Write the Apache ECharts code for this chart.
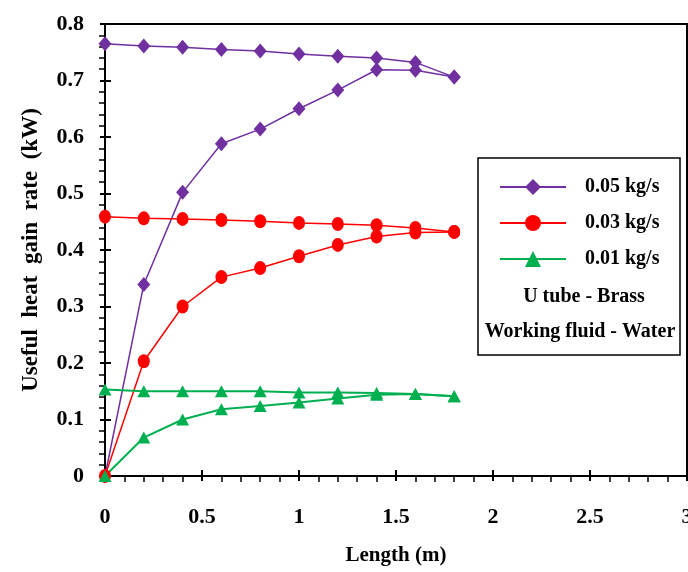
<!DOCTYPE html>
<html>
<head>
<meta charset="utf-8">
<script src="https://cdn.jsdelivr.net/npm/echarts@6/dist/echarts.min.js"></script>
<style>
html,body{margin:0;padding:0;background:#fff;}
#chart{width:688px;height:572px;}
</style>
</head>
<body>
<div id="chart"></div>
<script>
// ---- data ----
var lengths = [0, 0.2, 0.4, 0.6, 0.8, 1.0, 1.2, 1.4, 1.6, 1.8];
var seriesNames = ['0.05 kg/s', '0.03 kg/s', '0.01 kg/s'];
var rising005 = [0, 0.339, 0.502, 0.588, 0.614, 0.650, 0.683, 0.719, 0.718, 0.706];
var flat005   = [0.765, 0.761, 0.759, 0.755, 0.752, 0.747, 0.743, 0.740, 0.732, 0.706];
var rising003 = [0, 0.203, 0.300, 0.352, 0.368, 0.389, 0.409, 0.424, 0.431, 0.432];
var flat003   = [0.459, 0.456, 0.455, 0.453, 0.451, 0.448, 0.446, 0.444, 0.439, 0.432];
var rising001 = [0, 0.068, 0.100, 0.118, 0.124, 0.130, 0.137, 0.144, 0.145, 0.141];
var flat001   = [0.153, 0.150, 0.150, 0.150, 0.150, 0.148, 0.148, 0.147, 0.145, 0.141];
var xTicks = [0, 0.5, 1, 1.5, 2, 2.5, 3];
var yTicks = [0, 0.1, 0.2, 0.3, 0.4, 0.5, 0.6, 0.7, 0.8];
var legendNotes = ['U tube - Brass', 'Working fluid - Water'];
var xTitle = 'Length (m)';
var yTitle = 'Useful  heat  gain  rate  (kW)';

function pairs(ys) { return lengths.map(function (x, i) { return [x, ys[i]]; }); }

var FONT = '"Liberation Serif", "Times New Roman", serif';
var colors = ['#7030A0', '#FF0000', '#00B050'];
var symbols = ['diamond', 'circle', 'triangle'];
var symSizes = [[13, 15], [12, 14], [13, 12]];
var widths = [1.5, 1.5, 2];
var dataSets = [[rising005, flat005], [rising003, flat003], [rising001, flat001]];

var series = [];
for (var k = 0; k < 3; k++) {
  for (var j = 0; j < 2; j++) {
    series.push({
      name: seriesNames[k],
      type: 'line',
      data: pairs(dataSets[k][j]),
      symbol: symbols[k],
      symbolSize: symSizes[k],
      showSymbol: true,
      lineStyle: { color: colors[k], width: widths[k] },
      itemStyle: { color: colors[k] },
      z: 3
    });
  }
}

var axisFont = { fontFamily: FONT, fontWeight: 'bold', fontSize: 22, color: '#000' };

var chart = echarts.init(document.getElementById('chart'), null, { renderer: 'canvas' });
chart.setOption({
  animation: false,
  backgroundColor: '#fff',
  grid: { left: 105, right: 1, top: 24, bottom: 96, show: true, borderColor: '#000', borderWidth: 2, containLabel: false, outerBoundsMode: 'none' },
  xAxis: [{
    type: 'value', min: xTicks[0], max: xTicks[xTicks.length - 1], interval: 0.5,
    name: xTitle, nameLocation: 'middle', nameGap: 69,
    nameTextStyle: { fontFamily: FONT, fontWeight: 'bold', fontSize: 21, color: '#000' },
    axisLine: { lineStyle: { color: '#000', width: 2 } },
    axisTick: { show: true, inside: false, length: 5, lineStyle: { color: '#000', width: 2 } },
    minorTick: { show: true, splitNumber: 5, length: 6, lineStyle: { color: '#000', width: 1.5 } },
    splitLine: { show: false },
    axisLabel: Object.assign({ margin: 30, hideOverlap: false, formatter: function (v) { return String(+v.toFixed(1)); } }, axisFont)
  }, {
    type: 'value', min: xTicks[0], max: xTicks[xTicks.length - 1], interval: 0.5, position: 'bottom',
    axisLine: { show: false },
    axisTick: { show: true, inside: true, length: 6, lineStyle: { color: '#000', width: 2 } },
    axisLabel: { show: false }, splitLine: { show: false }
  }],
  yAxis: [{
    type: 'value', min: yTicks[0], max: yTicks[yTicks.length - 1], interval: 0.1,
    name: yTitle, nameLocation: 'middle', nameGap: 62, nameRotate: 90,
    nameTextStyle: { fontFamily: FONT, fontWeight: 'bold', fontSize: 23, color: '#000' },
    axisLine: { lineStyle: { color: '#000', width: 2 } },
    axisTick: { show: true, inside: false, length: 5, lineStyle: { color: '#000', width: 2 } },
    minorTick: { show: true, splitNumber: 5, length: 6, lineStyle: { color: '#000', width: 1.5 } },
    splitLine: { show: false },
    axisLabel: Object.assign({ margin: 21, formatter: function (v) { return v === 0 ? '0' : v.toFixed(1); } }, axisFont)
  }, {
    type: 'value', min: yTicks[0], max: yTicks[yTicks.length - 1], interval: 0.1, position: 'left',
    axisLine: { show: false },
    axisTick: { show: true, inside: true, length: 6, lineStyle: { color: '#000', width: 2 } },
    axisLabel: { show: false }, splitLine: { show: false }
  }],
  legend: {
    data: seriesNames,
    orient: 'vertical',
    left: 494, top: 172,
    itemWidth: 66, itemHeight: 20, itemGap: 16,
    textStyle: { fontFamily: FONT, fontWeight: 'bold', fontSize: 20, color: '#000', padding: [0, 0, 0, 14] },
    selectedMode: false
  },
  graphic: [
    { type: 'rect', shape: { x: 478, y: 158, width: 202, height: 197 }, style: { fill: 'rgba(0,0,0,0)', stroke: '#000', lineWidth: 1.5 }, z: 1 },
    { type: 'text', x: 584, y: 297, style: { text: legendNotes[0], fontFamily: FONT, fontWeight: 'bold', fontSize: 20, fill: '#000', textAlign: 'center', textVerticalAlign: 'middle' }, z: 5 },
    { type: 'text', x: 580, y: 332, style: { text: legendNotes[1], fontFamily: FONT, fontWeight: 'bold', fontSize: 20, fill: '#000', textAlign: 'center', textVerticalAlign: 'middle' }, z: 5 }
  ],
  series: series
});
</script>
</body>
</html>
